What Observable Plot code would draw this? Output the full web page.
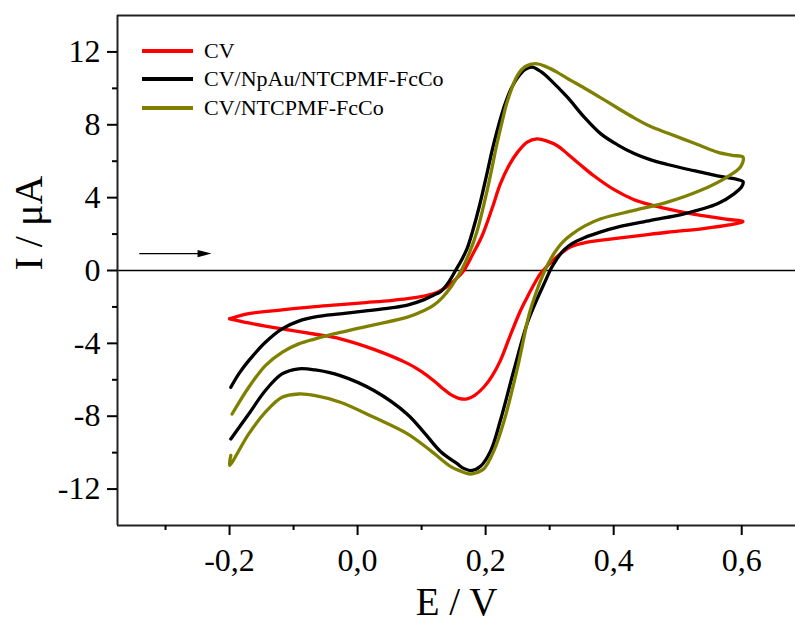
<!DOCTYPE html>
<html><head><meta charset="utf-8">
<script src="https://cdn.jsdelivr.net/npm/d3@7"></script>
<script src="https://cdn.jsdelivr.net/npm/@observablehq/plot@0.6"></script>
<style>
html,body{margin:0;padding:0;background:#fff;}
#wrap{position:relative;width:795px;height:623px;font-family:"Liberation Serif","Times New Roman",serif;}
#wrap svg{display:block;}
.leg{position:absolute;left:142px;display:flex;align-items:center;height:26px;font-size:22px;color:#000;white-space:nowrap;font-family:"Liberation Serif","Times New Roman",serif;}
.leg .sw{display:inline-block;width:51px;height:4px;margin-right:11px;}
</style></head><body><div id="wrap"></div>
<script>
// Series names and colours
const seriesNames = ["CV", "CV/NpAu/NTCPMF-FcCo", "CV/NTCPMF-FcCo"];
const seriesColors = ["#ff0000", "#000000", "#808000"];

// CV (red): potential (V) and current (µA), in scan order
const cvE = [-0.2, -0.17, -0.118, -0.066, -0.027, 0.013, 0.052, 0.078, 0.104, 0.119, 0.13, 0.145, 0.157, 0.166, 0.18, 0.195, 0.21, 0.223, 0.237, 0.25, 0.265, 0.28, 0.295, 0.312, 0.328, 0.348, 0.369, 0.4, 0.431, 0.458, 0.484, 0.536, 0.58, 0.602,
             0.58, 0.54, 0.484, 0.437, 0.385, 0.359, 0.333, 0.318, 0.305, 0.295, 0.285, 0.275, 0.263, 0.252, 0.237, 0.223, 0.21, 0.197, 0.183, 0.171, 0.158, 0.145, 0.132, 0.119, 0.1, 0.078, 0.0255, -0.027, -0.066, -0.118, -0.144, -0.17, -0.2];
const cvI = [-2.65, -2.37, -2.16, -1.98, -1.87, -1.76, -1.65, -1.55, -1.4, -1.27, -1.1, -0.75, -0.35, 0.0, 0.9, 1.95, 3.4, 4.75, 5.8, 6.5, 7.05, 7.23, 7.12, 6.85, 6.4, 5.8, 5.2, 4.45, 3.9, 3.6, 3.38, 3.02, 2.8, 2.69,
             2.5, 2.3, 2.1, 1.9, 1.68, 1.56, 1.3, 0.95, 0.55, 0.2, -0.2, -0.8, -1.6, -2.4, -3.7, -4.95, -5.8, -6.41, -6.85, -7.05, -7.02, -6.8, -6.45, -6.05, -5.55, -5.1, -4.33, -3.75, -3.5, -3.2, -3.05, -2.88, -2.65];

// CV/NpAu/NTCPMF-FcCo (black)
const npauE = [-0.198, -0.185, -0.17, -0.144, -0.118, -0.092, -0.066, -0.027, 0.013, 0.052, 0.078, 0.104, 0.119, 0.13, 0.142, 0.153, 0.162, 0.171, 0.18, 0.19, 0.2, 0.213, 0.229, 0.24, 0.25, 0.262, 0.273, 0.287, 0.302, 0.328, 0.354, 0.38, 0.406, 0.432, 0.458, 0.484, 0.51, 0.536, 0.562, 0.588, 0.602,
               0.6, 0.588, 0.562, 0.51, 0.458, 0.406, 0.38, 0.354, 0.335, 0.322, 0.311, 0.302, 0.293, 0.28, 0.265, 0.244, 0.223, 0.208, 0.192, 0.177, 0.165, 0.156, 0.13, 0.104, 0.078, 0.0255, -0.027, -0.066, -0.092, -0.118, -0.144, -0.17, -0.198];
const npauI = [-6.41, -5.65, -4.95, -3.94, -3.2, -2.78, -2.55, -2.38, -2.22, -2.05, -1.9, -1.6, -1.35, -1.15, -0.65, 0.0, 0.55, 1.2, 2.2, 3.5, 5.0, 7.0, 9.0, 10.0, 10.6, 11.05, 11.17, 10.9, 10.44, 9.5, 8.42, 7.5, 6.9, 6.42, 6.07, 5.82, 5.6, 5.4, 5.2, 5.04, 4.88,
               4.6, 4.21, 3.66, 3.11, 2.75, 2.38, 2.12, 1.8, 1.48, 1.12, 0.62, 0.1, -0.6, -1.6, -2.9, -5.49, -8.24, -9.89, -10.75, -10.99, -10.85, -10.62, -9.95, -8.9, -7.9, -6.59, -5.77, -5.46, -5.4, -5.68, -6.59, -7.88, -9.25];

// CV/NTCPMF-FcCo (olive)
const ntcE = [-0.196, -0.17, -0.144, -0.118, -0.092, -0.066, -0.027, 0.0255, 0.078, 0.104, 0.119, 0.132, 0.145, 0.155, 0.162, 0.175, 0.187, 0.203, 0.218, 0.226, 0.234, 0.2495, 0.262, 0.278, 0.295, 0.312, 0.3275, 0.354, 0.38, 0.406, 0.432, 0.458, 0.484, 0.51, 0.536, 0.562, 0.585, 0.602,
              0.598, 0.577, 0.536, 0.484, 0.432, 0.38, 0.355, 0.335, 0.32, 0.308, 0.298, 0.29, 0.28, 0.268, 0.25, 0.229, 0.213, 0.197, 0.182, 0.174, 0.16, 0.145, 0.114, 0.078, 0.0255, -0.027, -0.066, -0.092, -0.118, -0.144, -0.17, -0.2, -0.198];
const ntcI = [-7.88, -6.41, -5.22, -4.49, -4.03, -3.75, -3.4, -2.98, -2.56, -2.2, -1.9, -1.5, -0.95, -0.4, 0.0, 1.0, 2.2, 4.5, 7.0, 8.2, 9.3, 10.7, 11.2, 11.36, 11.18, 10.88, 10.55, 10.02, 9.48, 8.92, 8.38, 7.9, 7.55, 7.2, 6.85, 6.5, 6.32, 6.22,
              5.68, 5.13, 4.4, 3.75, 3.3, 2.84, 2.45, 2.0, 1.55, 1.0, 0.4, -0.2, -1.1, -2.4, -5.3, -8.24, -9.89, -10.9, -11.14, -11.17, -11.0, -10.75, -9.89, -8.97, -8.06, -7.23, -6.87, -6.78, -6.96, -7.78, -8.97, -10.7, -10.15];

// Axes
const xDomain = [-0.375, 0.684];
const yDomain = [-14, 14];
const xTicks = [-0.2, 0, 0.2, 0.4, 0.6];
const xMinor = [-0.3, -0.1, 0.1, 0.3, 0.5];
const yTicks = [-12, -8, -4, 0, 4, 8, 12];
const yMinor = [-10, -6, -2, 2, 6, 10];
const xLabel = "E / V";
const yLabel = "I / μA";

// Scan-direction arrow (annotation)
const arrowE = [-0.341, -0.246];
const arrowHeadE = -0.239;
const arrowI = 0.93;

const seriesE = [cvE, npauE, ntcE];
const seriesI = [cvI, npauI, ntcI];
const series = seriesNames.map((name, k) => ({
  name, color: seriesColors[k],
  rows: seriesE[k].map((e, i) => ({E: e, I: seriesI[k][i]}))
}));

const headSymbol = {
  draw(context, size) {
    const r = Math.sqrt(size / Math.PI);
    context.moveTo(r * 0.875, 0);
    context.lineTo(-r * 0.875, -r * 0.45);
    context.lineTo(-r * 0.875, r * 0.45);
    context.closePath();
  }
};

const FONT = '"Liberation Serif", "Times New Roman", serif';

const chart = Plot.plot({
  width: 795, height: 623,
  marginLeft: 117, marginRight: 0, marginTop: 15, marginBottom: 98,
  x: {domain: xDomain, label: null},
  y: {domain: yDomain, label: null},
  style: {fontFamily: FONT, background: "white", color: "black"},
  marks: [
    Plot.ruleY([0], {stroke: "#000", strokeWidth: 1.6}),
    Plot.link([{a: arrowE[0], b: arrowE[1], y: arrowI}], {x1: "a", x2: "b", y1: "y", y2: "y", stroke: "#000", strokeWidth: 1.3}),
    Plot.dot([{x: arrowHeadE, y: arrowI}], {x: "x", y: "y", symbol: headSymbol, r: 8, fill: "#000"}),
    ...series.map(s => Plot.line(s.rows, {x: "E", y: "I", stroke: s.color, strokeWidth: 3.3, curve: "catmull-rom"})),
    Plot.ruleY(yDomain, {stroke: "#222", strokeWidth: 2}),
    Plot.ruleX([xDomain[0]], {stroke: "#222", strokeWidth: 2}),
    Plot.axisX({ticks: xTicks, tickSize: 10, tickPadding: 13, strokeWidth: 2, fontSize: 32, fontFamily: FONT, label: null,
      tickFormat: d => d.toFixed(1).replace(".", ",")}),
    Plot.axisX({ticks: xMinor, tickSize: 5, strokeWidth: 2, label: null, tickFormat: () => ""}),
    Plot.axisY({ticks: yTicks, tickSize: 10, tickPadding: 7, strokeWidth: 2, fontSize: 32, fontFamily: FONT, label: null,
      tickFormat: d => String(d)}),
    Plot.axisY({ticks: yMinor, tickSize: 5, strokeWidth: 2, label: null, tickFormat: () => ""}),
    Plot.text([xLabel], {text: d => d, frameAnchor: "bottom", dy: 89, lineAnchor: "bottom", fontSize: 39, fontFamily: FONT, fill: "#000"}),
    Plot.text([yLabel], {text: d => d, frameAnchor: "left", dx: -88, rotate: -90, fontSize: 40, fontFamily: FONT, fill: "#000"})
  ]
});

const wrap = document.getElementById("wrap");
wrap.appendChild(chart);

const legendY = [51, 79, 107.5];
series.forEach((s, k) => {
  const row = document.createElement("div");
  row.className = "leg";
  row.style.top = (legendY[k] - 13) + "px";
  const sw = document.createElement("span");
  sw.className = "sw";
  sw.style.background = s.color;
  const tx = document.createElement("span");
  tx.textContent = s.name;
  row.appendChild(sw);
  row.appendChild(tx);
  wrap.appendChild(row);
});
</script>
</body></html>
